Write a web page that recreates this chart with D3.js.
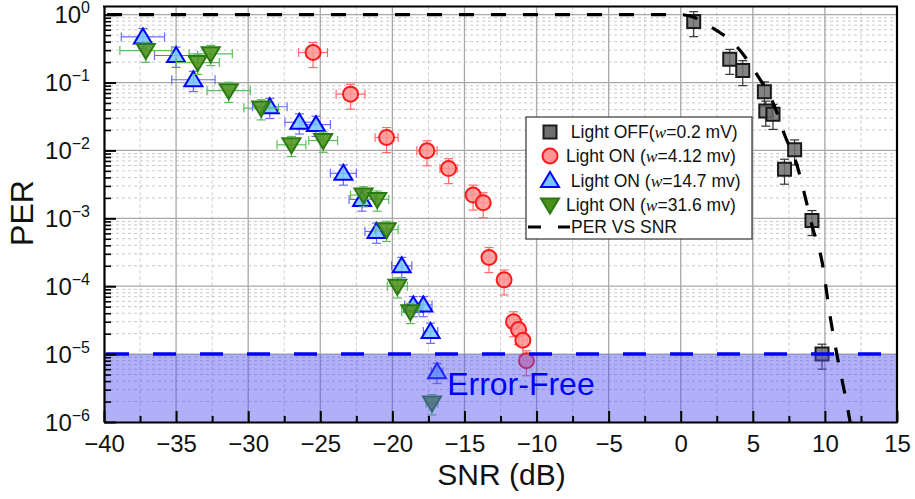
<!DOCTYPE html>
<html><head><meta charset="utf-8">
<script src="https://cdn.jsdelivr.net/npm/d3@7"></script>
<style>body{margin:0;background:#fff}svg{display:block}text{font-family:Arial,"Liberation Sans",sans-serif}</style>
</head><body><svg id="c" width="915" height="499"></svg>
<script>
// ---------- data ----------
const xTicks = [-40, -35, -30, -25, -20, -15, -10, -5, 0, 5, 10, 15];
const xMinorTicks = [-37.5, -32.5, -27.5, -22.5, -17.5, -12.5, -7.5, -2.5, 2.5, 7.5, 12.5];
const yExponents = [-6, -5, -4, -3, -2, -1, 0];

const offSNR = [0.9, 3.4, 4.3, 5.8, 5.9, 6.4, 7.9, 7.2, 9.1, 9.8];
const offPER = [0.79, 0.22, 0.15, 0.073, 0.038, 0.034, 0.0102, 0.0053, 9.3e-4, 1.0e-5];

const on412SNR = [-25.5, -22.9, -20.4, -17.6, -16.1, -14.4, -13.7, -13.3, -12.25, -11.6, -11.25, -10.95, -10.7];
const on412PER = [0.277, 0.0675, 0.0155, 0.0099, 0.0054, 0.0022, 0.0017, 2.65e-4, 1.24e-4, 3.0e-5, 2.3e-5, 1.6e-5, 8.0e-6];
const on412XErr = [1.0, 1.0, 0.8, 0.7, 0.6, 0.4, 0.4, 0.4, 0.3, 0.3, 0.3, 0.3, 0.3];

const on147SNR = [-37.3, -35.0, -33.8, -28.5, -26.45, -25.3, -23.4, -22.1, -21.1, -19.35, -18.55, -17.85, -17.35, -16.9];
const on147PER = [0.47, 0.25, 0.11, 0.044, 0.026, 0.024, 0.0046, 0.0019, 6.4e-4, 2.0e-4, 5.3e-5, 5.3e-5, 2.15e-5, 5.5e-6];
const on147XErr = [1.5, 1.5, 1.5, 1.2, 1.0, 1.0, 0.9, 0.9, 0.8, 0.7, 0.6, 0.6, 0.5, 0.4];

const on316SNR = [-37.1, -33.5, -32.6, -31.35, -29.1, -27.0, -24.8, -22.0, -21.05, -20.4, -19.65, -18.75, -17.25];
const on316PER = [0.296, 0.197, 0.265, 0.076, 0.042, 0.0121, 0.014, 0.0022, 0.0019, 6.8e-4, 1.0e-4, 4.2e-5, 1.9e-6];
const on316XErr = [1.8, 1.5, 1.5, 1.5, 1.2, 1.0, 1.0, 0.9, 0.8, 0.8, 0.7, 0.6, 0.4];

const curveSNR = [-40, 0, 1.0, 2.0, 3.9, 5.3, 6.5, 7.2, 8.05, 8.6, 9.15, 9.8, 10.4, 10.9, 11.4, 11.75];
const curvePER = [1, 1, 0.9, 0.68, 0.336, 0.13, 0.045, 0.017, 0.0062, 0.0022, 7.2e-4, 2.3e-4, 3.2e-5, 8.3e-6, 2.5e-6, 1e-6];

const errorFreeLevel = 1e-5;
const legendLabels = [
  [" Light OFF(", "w", "=0.2 mV)"],
  ["Light ON (", "w", "=4.12 mv)"],
  [" Light ON (", "w", "=14.7 mv)"],
  ["Light ON (", "w", "=31.6 mv)"],
  ["PER VS SNR"]
];

// ---------- setup ----------
const svg = d3.select("#c");
const L = 104, R = 897, T = 6.5, B = 422;
const x = d3.scaleLinear().domain([-40, 15]).range([L, R]);
const y = d3.scaleLog().domain([1e-6, Math.pow(10, 0.12)]).range([B, T]);

svg.append("rect").attr("width", 915).attr("height", 499).attr("fill", "#fff");

const minorY = [];
yExponents.slice(0, -1).forEach(e => { for (let k = 2; k <= 9; k++) minorY.push(k * Math.pow(10, e)); });

// grid
const g = svg.append("g");
g.selectAll(".mx").data(xMinorTicks).join("line")
  .attr("x1", d => x(d)).attr("x2", d => x(d)).attr("y1", T).attr("y2", B)
  .attr("stroke", "#c8c8c8").attr("stroke-width", 1).attr("stroke-dasharray", "3,3");
g.selectAll(".my").data(minorY).join("line")
  .attr("x1", L).attr("x2", R).attr("y1", d => y(d)).attr("y2", d => y(d))
  .attr("stroke", "#c8c8c8").attr("stroke-width", 1).attr("stroke-dasharray", "3,3");
g.selectAll(".gx").data(xTicks.slice(1, -1)).join("line")
  .attr("x1", d => x(d)).attr("x2", d => x(d)).attr("y1", T).attr("y2", B)
  .attr("stroke", "#a8a8a8").attr("stroke-width", 1.3);
g.selectAll(".gy").data(yExponents.slice(1)).join("line")
  .attr("x1", L).attr("x2", R).attr("y1", d => y(Math.pow(10, d))).attr("y2", d => y(Math.pow(10, d)))
  .attr("stroke", "#a8a8a8").attr("stroke-width", 1.3);

// series
const series = [
  {snr: offSNR, per: offPER, xerr: null, rel: 0.4, shape: "square", fill: "#6e6e6e", stroke: "#1a1a1a", err: "#333"},
  {snr: on412SNR, per: on412PER, xerr: on412XErr, rel: 0.4, shape: "circle", fill: "#ff9494", stroke: "#ff1a1a", err: "#ff6a6a"},
  {snr: on147SNR, per: on147PER, xerr: on147XErr, rel: 0.33, shape: "up", fill: "#78c8ff", stroke: "#0000ff", err: "#6a6aff"},
  {snr: on316SNR, per: on316PER, xerr: on316XErr, rel: 0.33, shape: "down", fill: "#4a9018", stroke: "#2a7a12", err: "#5cbf5c"}
];

function shapePath(shape, cx, cy) {
  const p = d3.path();
  if (shape === "square") { p.rect(cx - 6.5, cy - 6.5, 13, 13); }
  else if (shape === "circle") { p.arc(cx, cy, 7.5, 0, 2 * Math.PI); p.closePath(); }
  else if (shape === "up") { p.moveTo(cx, cy - 8.5); p.lineTo(cx + 9, cy + 6.5); p.lineTo(cx - 9, cy + 6.5); p.closePath(); }
  else { p.moveTo(cx, cy + 8.5); p.lineTo(cx + 9, cy - 6.5); p.lineTo(cx - 9, cy - 6.5); p.closePath(); }
  return p.toString();
}

series.forEach(s => {
  const gs = svg.append("g");
  const pts = s.snr.map((v, i) => ({sx: v, p: s.per[i], xe: s.xerr ? s.xerr[i] : 0}));
  const eb = gs.append("g").attr("stroke", s.err).attr("stroke-width", 1.2).attr("fill", "none");
  pts.forEach(d => {
    const cx = x(d.sx), cy = y(d.p);
    const yt = y(d.p * (1 + s.rel)), yb = y(d.p * (1 - s.rel));
    eb.append("line").attr("x1", cx).attr("x2", cx).attr("y1", yt).attr("y2", yb);
    eb.append("line").attr("x1", cx - 4.5).attr("x2", cx + 4.5).attr("y1", yt).attr("y2", yt);
    eb.append("line").attr("x1", cx - 4.5).attr("x2", cx + 4.5).attr("y1", yb).attr("y2", yb);
    if (d.xe) {
      const xl = x(d.sx - d.xe), xr = x(d.sx + d.xe);
      eb.append("line").attr("x1", xl).attr("x2", xr).attr("y1", cy).attr("y2", cy);
      eb.append("line").attr("x1", xl).attr("x2", xl).attr("y1", cy - 4.5).attr("y2", cy + 4.5);
      eb.append("line").attr("x1", xr).attr("x2", xr).attr("y1", cy - 4.5).attr("y2", cy + 4.5);
    }
  });
  gs.selectAll("path.m").data(pts).join("path").attr("class", "m")
    .attr("d", d => shapePath(s.shape, x(d.sx), y(d.p)))
    .attr("fill", s.fill).attr("fill-opacity", 0.85)
    .attr("stroke", s.stroke).attr("stroke-width", 2);
});

// error-free region
svg.append("rect").attr("x", L).attr("y", y(errorFreeLevel)).attr("width", R - L).attr("height", B - y(errorFreeLevel))
  .attr("fill", "rgb(80,80,240)").attr("fill-opacity", 0.45);

// PER vs SNR curve
const line = d3.line().x(d => x(d[0])).y(d => y(d[1])).curve(d3.curveMonotoneX);
svg.append("path").datum(curveSNR.map((v, i) => [v, curvePER[i]]))
  .attr("d", line).attr("fill", "none").attr("stroke", "#000").attr("stroke-width", 3.2)
  .attr("stroke-dasharray", "15,17").attr("stroke-dashoffset", -3);

// error-free line
svg.append("line").attr("x1", L).attr("x2", R).attr("y1", y(errorFreeLevel)).attr("y2", y(errorFreeLevel))
  .attr("stroke", "#0000ff").attr("stroke-width", 3.5).attr("stroke-dasharray", "23,24").attr("stroke-dashoffset", -2);

svg.append("text").attr("x", x(-16.2)).attr("y", 395).attr("font-size", 32).attr("fill", "#0000ff").text("Error-Free");

// axes
const ax = svg.append("g").attr("transform", `translate(0,${B})`)
  .call(d3.axisBottom(x).tickValues(xTicks).tickSizeInner(-11).tickSizeOuter(0).tickPadding(13).tickFormat(d3.format("d")));
ax.select(".domain").attr("stroke-width", 2.2);
ax.selectAll(".tick line").attr("stroke-width", 2);
ax.selectAll("text").attr("font-size", 24).attr("fill", "#111").attr("font-family", "Arial, 'Liberation Sans', sans-serif");
const axm = svg.append("g").attr("transform", `translate(0,${B})`)
  .call(d3.axisBottom(x).tickValues(xMinorTicks).tickSizeInner(-6).tickSizeOuter(0).tickFormat(""));
axm.select(".domain").remove();
axm.selectAll(".tick line").attr("stroke-width", 2);

const ay = svg.append("g").attr("transform", `translate(${L},0)`)
  .call(d3.axisLeft(y).tickValues(yExponents.map(e => Math.pow(10, e))).tickSizeInner(-12).tickSizeOuter(0).tickFormat(""));
ay.select(".domain").attr("stroke-width", 2.2);
ay.selectAll(".tick line").attr("stroke-width", 2);
const aym = svg.append("g").attr("transform", `translate(${L},0)`)
  .call(d3.axisLeft(y).tickValues(minorY).tickSizeInner(-7).tickSizeOuter(0).tickFormat(""));
aym.select(".domain").remove();
aym.selectAll(".tick line").attr("stroke-width", 1.6);

// frame top/right
svg.append("line").attr("x1", L - 1).attr("x2", R + 1).attr("y1", T).attr("y2", T).attr("stroke", "#000").attr("stroke-width", 2.2);
svg.append("line").attr("x1", R).attr("x2", R).attr("y1", T).attr("y2", B + 1).attr("stroke", "#000").attr("stroke-width", 2.2);

// y tick labels
const yl = svg.append("g");
yExponents.forEach(e => {
  const t = yl.append("text").attr("x", 90).attr("y", y(Math.pow(10, e)) + 8.5).attr("text-anchor", "end").attr("fill", "#111");
  t.append("tspan").attr("font-size", 24).text("10");
  t.append("tspan").attr("font-size", 16).attr("dy", -10).text(e === 0 ? "0" : "\u2212" + Math.abs(e));
});

// axis titles
svg.append("text").attr("x", (L + R) / 2 + 1).attr("y", 485).attr("text-anchor", "middle").attr("font-size", 30).attr("fill", "#111").text("SNR (dB)");
svg.append("text").attr("transform", "translate(33,213) rotate(-90)").attr("text-anchor", "middle").attr("font-size", 32).attr("fill", "#111").text("PER");

// legend
const lg = svg.append("g");
lg.append("rect").attr("x", 526).attr("y", 117).attr("width", 226).attr("height", 122)
  .attr("fill", "#fff").attr("stroke", "#444").attr("stroke-width", 1.3);
const rowY = [132, 156, 180.5, 205, 227];
series.forEach((s, i) => {
  lg.append("path").attr("d", shapePath(s.shape, 550, rowY[i]))
    .attr("fill", s.fill).attr("stroke", s.stroke).attr("stroke-width", 2);
});
lg.append("line").attr("x1", 528).attr("x2", 541).attr("y1", rowY[4]).attr("y2", rowY[4]).attr("stroke", "#000").attr("stroke-width", 3);
lg.append("line").attr("x1", 558).attr("x2", 570).attr("y1", rowY[4]).attr("y2", rowY[4]).attr("stroke", "#000").attr("stroke-width", 3);
legendLabels.forEach((parts, i) => {
  const t = lg.append("text").attr("x", i === 4 ? 571 : 566).attr("y", rowY[i] + 6).attr("font-size", 17.5).attr("fill", "#111")
    .attr("xml:space", "preserve").style("white-space", "pre");
  t.append("tspan").text(parts[0]);
  if (parts.length > 1) {
    t.append("tspan").attr("font-family", "'Liberation Serif','Times New Roman',serif").attr("font-style", "italic").text(parts[1]);
    t.append("tspan").text(parts[2]);
  }
});
</script></body></html>
